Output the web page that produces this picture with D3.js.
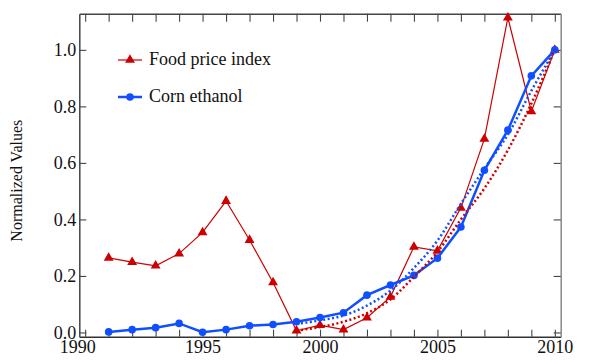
<!DOCTYPE html>
<html>
<head>
<meta charset="utf-8">
<script src="https://cdn.jsdelivr.net/npm/d3@7"></script>
<style>
  body { margin: 0; background: #fff; }
  svg text { font-family: "Liberation Serif", "Times New Roman", Times, "DejaVu Serif", serif !important; }
</style>
</head>
<body>
<div id="chart"></div>
<script>
var years = [1991, 1992, 1993, 1994, 1995, 1996, 1997, 1998, 1999, 2000,
             2001, 2002, 2003, 2004, 2005, 2006, 2007, 2008, 2009, 2010];
var foodPrice = [0.264, 0.249, 0.236, 0.279, 0.354, 0.465, 0.327, 0.177, 0.006, 0.026,
                 0.010, 0.052, 0.126, 0.303, 0.289, 0.441, 0.685, 1.114, 0.782, 1.000];
var cornEthanol = [0.002, 0.010, 0.017, 0.032, 0.001, 0.010, 0.024, 0.028, 0.038, 0.053,
                   0.070, 0.132, 0.168, 0.202, 0.263, 0.373, 0.574, 0.716, 0.908, 1.000];

// fitted trend curves (dotted), 1999-2010
var fitYears = [1999, 2000, 2001, 2002, 2003, 2004, 2005, 2006, 2007, 2008, 2009, 2010];
var foodFit = [0.007, 0.019, 0.038, 0.068, 0.117, 0.197, 0.285, 0.400, 0.510, 0.645, 0.810, 1.000];
var cornFit = [0.030, 0.043, 0.060, 0.095, 0.148, 0.228, 0.325, 0.455, 0.580, 0.700, 0.855, 1.000];

var xTicks = d3.range(1990, 2011);
var yTicks = [0, 0.2, 0.4, 0.6, 0.8, 1.0];
var seriesNames = ["Food price index", "Corn ethanol"];

var red = "#cc0000", blue = "#0f4fff";

var width = 598, height = 364;
var margin = {top: 13.7, right: 37.3, bottom: 27.3, left: 79.3};
var w = width - margin.left - margin.right;
var h = height - margin.top - margin.bottom;

var svg = d3.select("#chart").append("svg")
    .attr("width", width)
    .attr("height", height);

var g = svg.append("g")
    .attr("transform", "translate(" + margin.left + "," + margin.top + ")");

var x = d3.scaleLinear().domain([1989.75, 2010.25]).range([0, w]);
var y = d3.scaleLinear().domain([-0.015, 1.128]).range([h, 0]);

// axes, ticks pointing inward
var xAxis = d3.axisBottom(x).tickValues(xTicks).tickSizeInner(-7).tickSizeOuter(0).tickPadding(4)
    .tickFormat(function(d){ return d % 5 === 0 ? d : ""; });
var xTop = d3.axisTop(x).tickValues(xTicks).tickSizeInner(-8).tickSizeOuter(0).tickFormat("");
var yAxis = d3.axisLeft(y).tickValues(yTicks).tickSizeInner(-7).tickSizeOuter(0).tickPadding(3)
    .tickFormat(d3.format(".1f"));
var yRight = d3.axisRight(y).tickValues(yTicks).tickSizeInner(-7).tickSizeOuter(0).tickFormat("");

function styleAxis(sel, col) {
  sel.attr("font-family", null);
  sel.selectAll("path").attr("stroke", col).attr("stroke-width", 1.5);
  sel.selectAll("line").attr("stroke", "#444").attr("stroke-width", 1.1);
  sel.selectAll("text").attr("font-size", 18).attr("fill", "#111");
}

var xg = g.append("g").attr("transform", "translate(0," + h + ")").call(xAxis).call(styleAxis, "#333");
// first year label sits a little left of its tick, as in the original
xg.selectAll("text").filter(function(d){ return d === 1990; }).attr("dx", -8);
g.append("g").call(xTop).call(styleAxis, "#444");
g.append("g").call(yAxis).call(styleAxis, "#444");
g.append("g").attr("transform", "translate(" + w + ",0)").call(yRight).call(styleAxis, "#888");

svg.append("text")
    .attr("transform", "translate(22," + (margin.top + 167) + ") rotate(-90)")
    .attr("text-anchor", "middle")
    .attr("font-size", 16)
    .attr("fill", "#111")
    .text("Normalized Values");

var line = d3.line()
    .x(function(d){ return x(d[0]); })
    .y(function(d){ return y(d[1]); });
var smooth = d3.line()
    .x(function(d){ return x(d[0]); })
    .y(function(d){ return y(d[1]); })
    .curve(d3.curveMonotoneX);

var foodData = d3.zip(years, foodPrice);
var cornData = d3.zip(years, cornEthanol);

// food price index
g.append("path").datum(foodData)
    .attr("d", line).attr("fill", "none")
    .attr("stroke", red).attr("stroke-width", 1.2);
g.selectAll(".tri").data(foodData).enter().append("path")
    .attr("class", "tri")
    .attr("transform", function(d){ return "translate(" + x(d[0]) + "," + y(d[1]) + ")"; })
    .attr("d", d3.symbol().type(d3.symbolTriangle).size(42))
    .attr("fill", red);

// corn ethanol
g.append("path").datum(cornData)
    .attr("d", line).attr("fill", "none")
    .attr("stroke", blue).attr("stroke-width", 2.5);
g.selectAll(".dot").data(cornData).enter().append("circle")
    .attr("class", "dot")
    .attr("cx", function(d){ return x(d[0]); })
    .attr("cy", function(d){ return y(d[1]); })
    .attr("r", 3.8)
    .attr("fill", blue);

// dotted fits
g.append("path").datum(d3.zip(fitYears, foodFit))
    .attr("d", smooth).attr("fill", "none")
    .attr("stroke", red).attr("stroke-width", 2.5).attr("stroke-dasharray", "2,2.5");
g.append("path").datum(d3.zip(fitYears, cornFit))
    .attr("d", smooth).attr("fill", "none")
    .attr("stroke", blue).attr("stroke-width", 2.5).attr("stroke-dasharray", "2,2.5");

// legend
var legend = svg.append("g");
[red, blue].forEach(function(col, i){
  var ly = 60 + i * 37;
  legend.append("line")
      .attr("x1", 118).attr("x2", 142).attr("y1", ly).attr("y2", ly)
      .attr("stroke", col).attr("stroke-width", i === 0 ? 1.2 : 2.5);
  if (i === 0) {
    legend.append("path")
        .attr("transform", "translate(130," + ly + ")")
        .attr("d", d3.symbol().type(d3.symbolTriangle).size(42))
        .attr("fill", col);
  } else {
    legend.append("circle").attr("cx", 130).attr("cy", ly).attr("r", 3.8).attr("fill", col);
  }
  legend.append("text")
      .attr("x", 149).attr("y", ly + 5)
      .attr("font-size", 18).attr("fill", "#111")
      .text(seriesNames[i]);
});
</script>
</body>
</html>
